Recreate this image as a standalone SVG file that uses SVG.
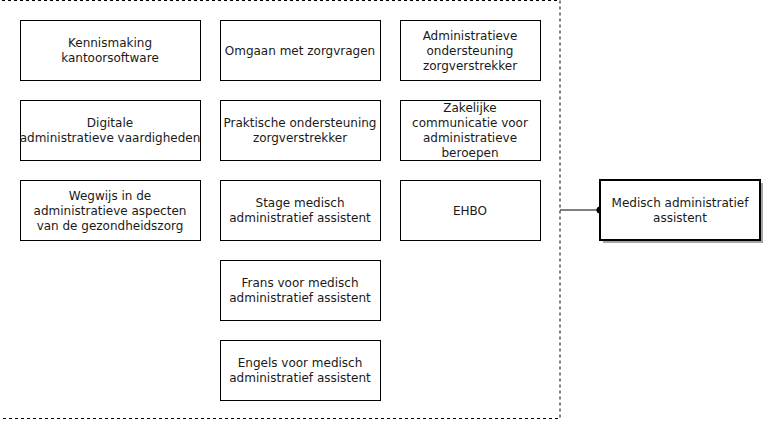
<svg xmlns="http://www.w3.org/2000/svg" width="768" height="425" viewBox="0 0 768 425">
<defs>
<style>
.box{fill:#fff;stroke:#000;stroke-width:1}
.main{fill:#fff;stroke:#000;stroke-width:2}
.shadow{fill:#000;opacity:0.35}
.t{font-family:"DejaVu Sans",Verdana,sans-serif;font-size:12px;fill:#1a1a1a;text-anchor:middle}
.cont{fill:none;stroke:#000;stroke-width:1;stroke-dasharray:3 3}
.edge{fill:none;stroke:#000;stroke-width:1}
</style>
</defs>
<rect width="768" height="425" fill="#fff"/>
<g id="container"><rect class="cont" x="-10" y="0.5" width="570" height="418"/></g>
<g id="connectors">
<line class="edge" x1="560" y1="210" x2="600" y2="210"/>
<circle cx="600" cy="210" r="3.5" fill="#000"/>
</g>
<g id="n1"><rect class="box" x="20.5" y="20.5" width="180" height="60"/><text class="t" x="110" y="47">Kennismaking</text><text class="t" x="110" y="62">kantoorsoftware</text></g>
<g id="n2"><rect class="box" x="220.5" y="20.5" width="160" height="60"/><text class="t" x="300" y="54.5">Omgaan met zorgvragen</text></g>
<g id="n3"><rect class="box" x="400.5" y="20.5" width="140" height="60"/><text class="t" x="470" y="39.5">Administratieve</text><text class="t" x="470" y="54.5">ondersteuning</text><text class="t" x="470" y="69.5">zorgverstrekker</text></g>
<g id="n4"><rect class="box" x="20.5" y="100.5" width="180" height="60"/><text class="t" x="110" y="127">Digitale</text><text class="t" x="110" y="142">administratieve vaardigheden</text></g>
<g id="n5"><rect class="box" x="220.5" y="100.5" width="160" height="60"/><text class="t" x="300" y="127">Praktische ondersteuning</text><text class="t" x="300" y="142">zorgverstrekker</text></g>
<g id="n6"><rect class="box" x="400.5" y="100.5" width="140" height="60"/><text class="t" x="470" y="112">Zakelijke</text><text class="t" x="470" y="127">communicatie voor</text><text class="t" x="470" y="142">administratieve</text><text class="t" x="470" y="157">beroepen</text></g>
<g id="n7"><rect class="box" x="20.5" y="180.5" width="180" height="60"/><text class="t" x="110" y="199.5">Wegwijs in de</text><text class="t" x="110" y="214.5">administratieve aspecten</text><text class="t" x="110" y="229.5">van de gezondheidszorg</text></g>
<g id="n8"><rect class="box" x="220.5" y="180.5" width="160" height="60"/><text class="t" x="300" y="207">Stage medisch</text><text class="t" x="300" y="222">administratief assistent</text></g>
<g id="n9"><rect class="box" x="400.5" y="180.5" width="140" height="60"/><text class="t" x="470" y="214.5">EHBO</text></g>
<g id="n10"><rect class="box" x="220.5" y="260.5" width="160" height="60"/><text class="t" x="300" y="287">Frans voor medisch</text><text class="t" x="300" y="302">administratief assistent</text></g>
<g id="n11"><rect class="box" x="220.5" y="340.5" width="160" height="60"/><text class="t" x="300" y="367">Engels voor medisch</text><text class="t" x="300" y="382">administratief assistent</text></g>
<g id="main"><rect class="shadow" x="603" y="183" width="160" height="60"/><rect class="main" x="600" y="180" width="160" height="60"/><text class="t" x="680" y="207">Medisch administratief</text><text class="t" x="680" y="222">assistent</text></g>
</svg>
